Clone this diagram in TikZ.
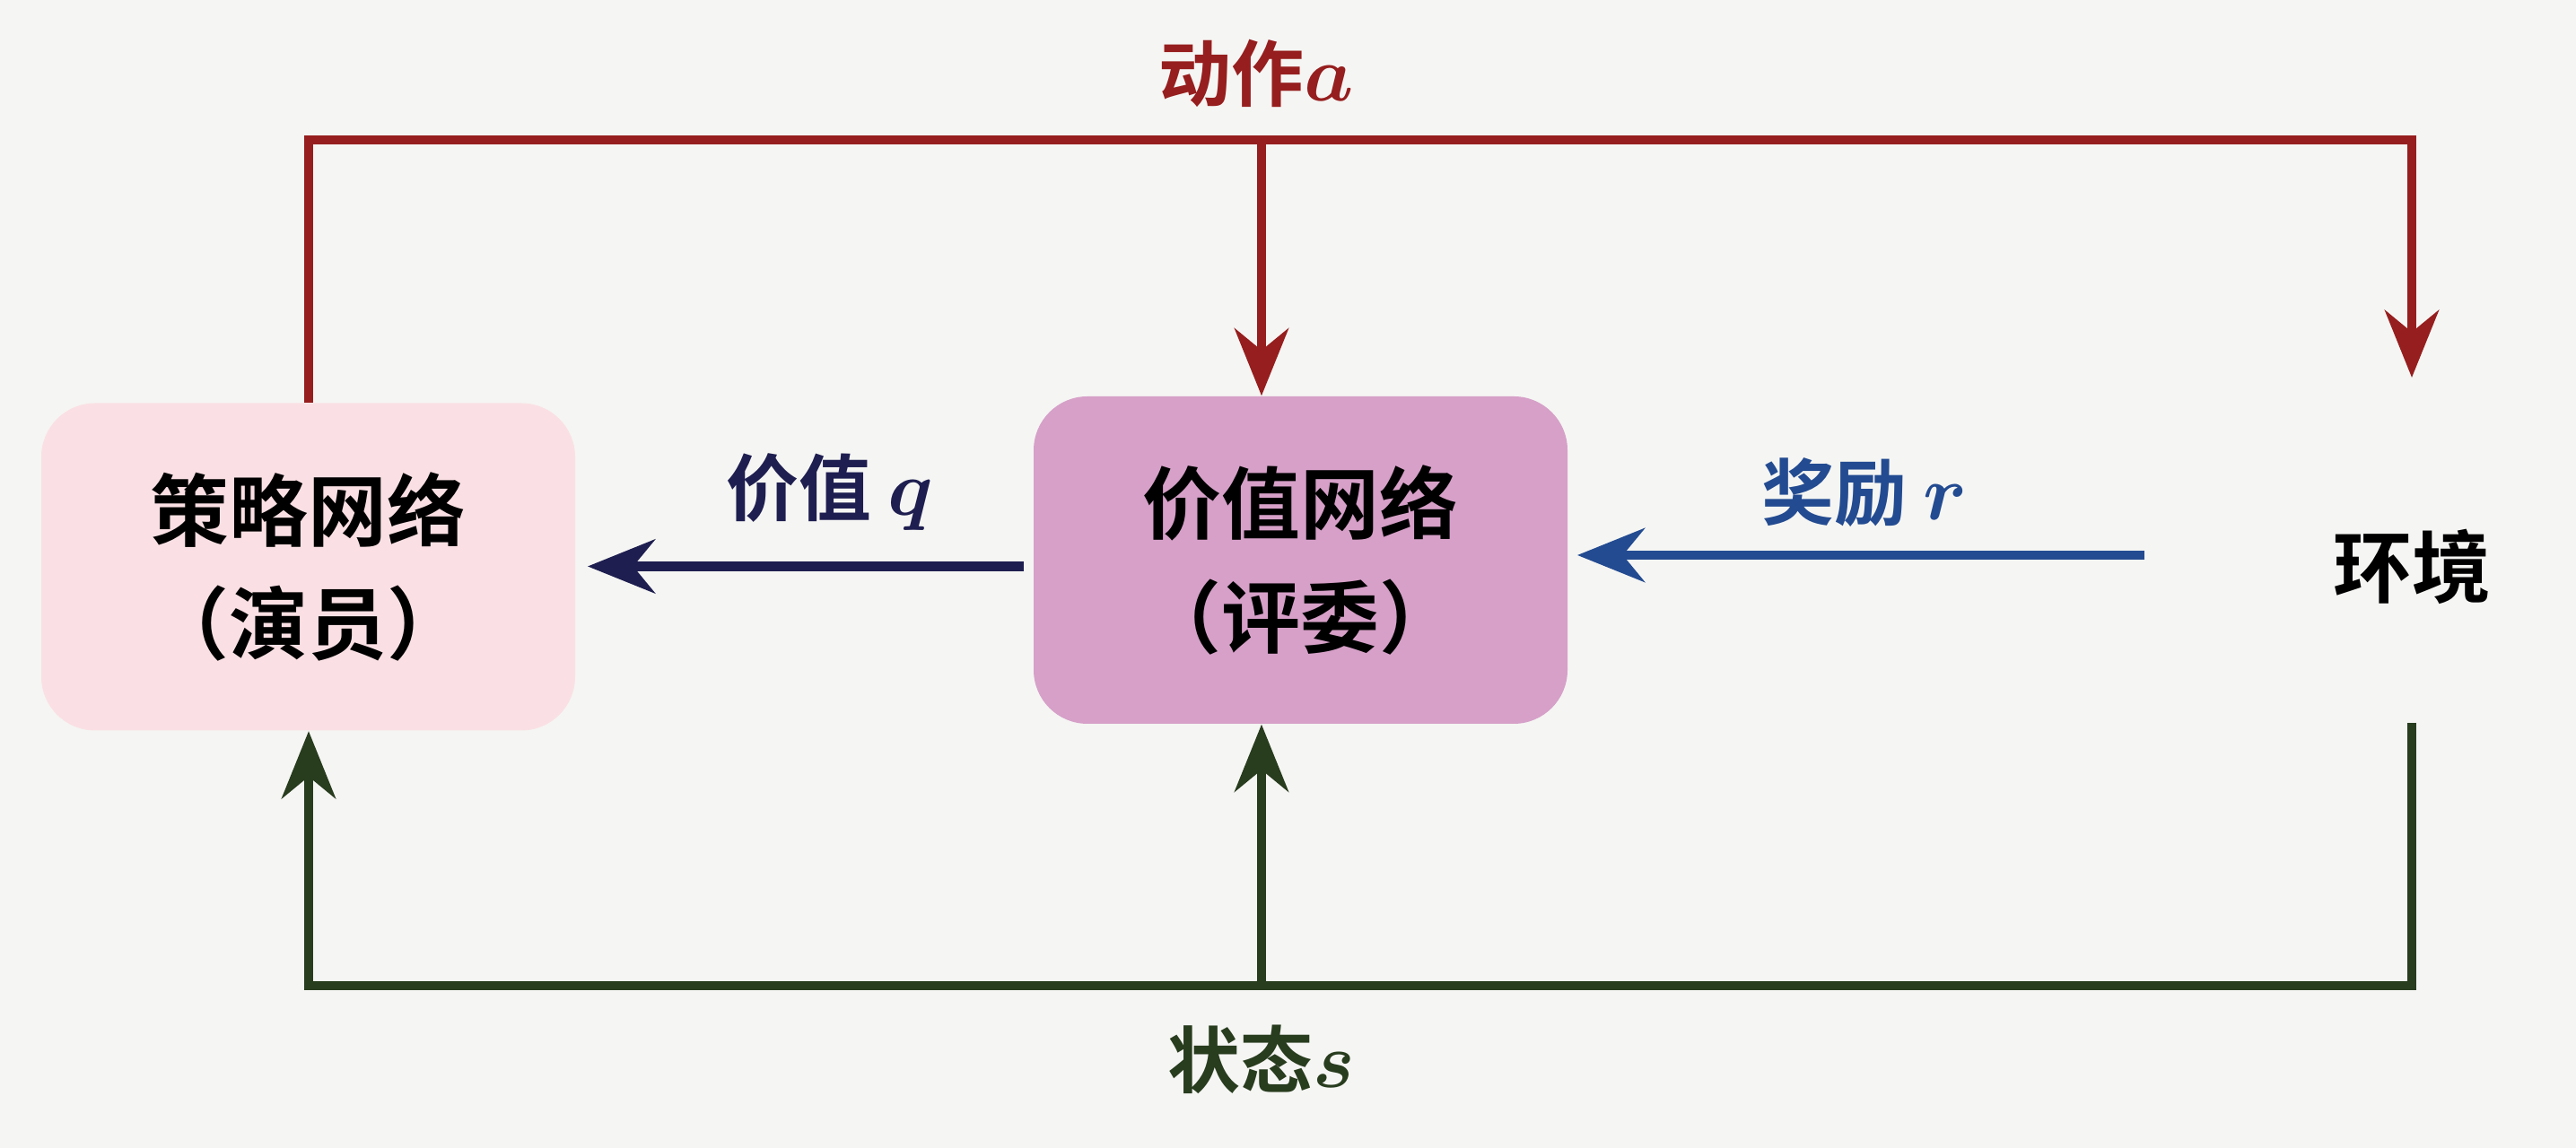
\documentclass[tikz,border=0pt]{standalone}
\usepackage{amsmath,bm}
\usepackage{fontspec}
\setmainfont{Noto Sans CJK SC}[BoldFont={Noto Sans CJK SC Bold}]
\usetikzlibrary{arrows.meta}
\definecolor{bg}{RGB}{245,245,243}
\definecolor{ared}{RGB}{150,30,30}
\definecolor{anavy}{RGB}{30,30,80}
\definecolor{ablue}{RGB}{35,75,145}
\definecolor{agreen}{RGB}{40,60,30}
\definecolor{pinkA}{RGB}{250,224,228}
\definecolor{pinkB}{RGB}{214,160,200}
\begin{document}
\begin{tikzpicture}[x=1cm,y=-1cm,
  box/.style={rounded corners=0.6cm,minimum width=5.95cm,minimum height=3.65cm,align=center,font=\fontsize{25}{36}\selectfont\bfseries},
  lab/.style={font=\fontsize{23}{26}\selectfont\bfseries},
  ln/.style={line width=3pt},
  arr/.style={line width=3pt,-{Stealth[length=0.75cm,width=0.6cm]}}]
\fill[bg] (0,0) rectangle (28.71,12.80);
\node[box,fill=pinkA] (pol) at (3.435,6.32) {策略网络\\（演员）};
\node[box,fill=pinkB] (val) at (14.495,6.245) {价值网络\\（评委）};
\node[font=\fontsize{25}{30}\selectfont\bfseries] (env) at (26.88,6.32) {环境};
\coordinate (tl) at (3.44,1.56);
\coordinate (tm) at (14.06,1.56);
\coordinate (tr) at (26.88,1.56);
\coordinate (ea) at (26.88,4.21);
\coordinate (bl) at (3.44,10.99);
\coordinate (bm) at (14.06,10.99);
\coordinate (br) at (26.88,10.99);
\coordinate (eb) at (26.88,8.06);
\draw[arr,ared] (pol.north -| tl) -- (tl) -- (tr) -- (ea);
\draw[arr,ared] (tm) -- (val.north -| tm);
\node[lab,text=ared] (la) at (14.0,0.82) {动作$\bm{a}$};
\draw[arr,agreen] (eb) -- (br) -- (bl) -- (pol.south -| bl);
\draw[arr,agreen] (bm) -- (val.south -| bm);
\node[lab,text=agreen] (ls) at (14.06,11.81) {状态$\bm{s}$};
\draw[arr,anavy] (val.west) ++(-0.1,0.07) coordinate (q1) -- (q1 -| 6.55,0);
\node[lab,text=anavy] (lq) at (9.25,5.49) {价值 $\bm{q}$};
\coordinate (r1) at (23.9,6.19);
\draw[arr,ablue] (r1) -- (17.58,6.19);
\node[lab,text=ablue] (lr) at (20.78,5.49) {奖励 $\bm{r}$};
\end{tikzpicture}
\end{document}
